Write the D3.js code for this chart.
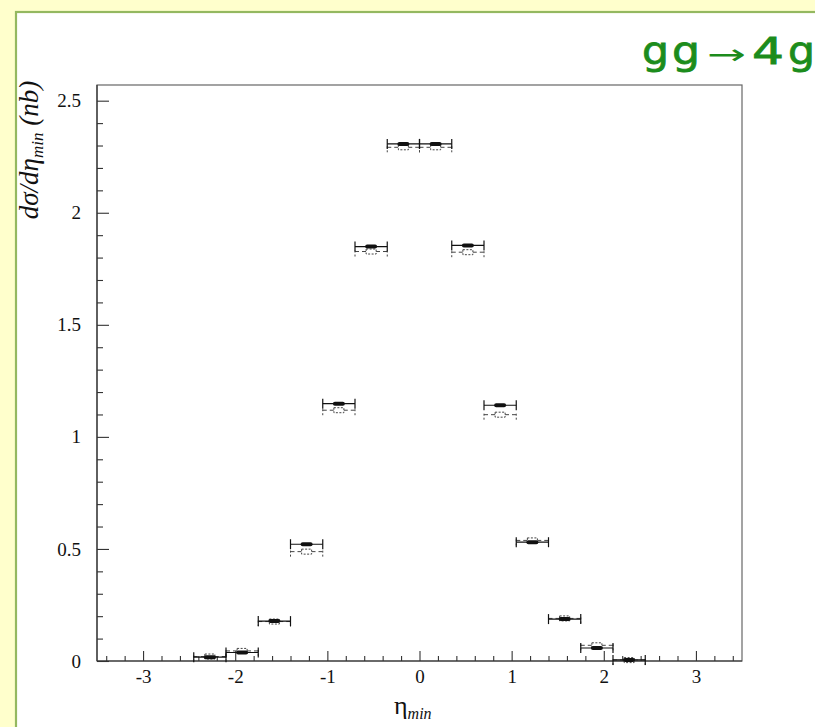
<!DOCTYPE html>
<html>
<head>
<meta charset="utf-8">
<script src="https://cdn.jsdelivr.net/npm/d3@7/dist/d3.min.js"></script>
<style>
  html, body { margin: 0; padding: 0; background: #ffffcc; }
  svg { display: block; }
</style>
</head>
<body>
<script>
// Bin edges in eta_min (each bin 0.35 wide)
const binLo = [-2.45, -2.10, -1.75, -1.40, -1.05, -0.70, -0.35, 0.00, 0.35, 0.70, 1.05, 1.40, 1.75, 2.10];
const binHi = [-2.10, -1.75, -1.40, -1.05, -0.70, -0.35, 0.00, 0.35, 0.70, 1.05, 1.40, 1.75, 2.10, 2.45];
// d sigma / d eta_min in nb: solid and dashed samples
const solidVals  = [0.017, 0.038, 0.178, 0.521, 1.148, 1.849, 2.307, 2.307, 1.854, 1.141, 0.530, 0.187, 0.058, 0.005];
const dashedVals = [0.020, 0.045, 0.176, 0.488, 1.119, 1.827, 2.292, 2.292, 1.824, 1.099, 0.538, 0.190, 0.070, 0.004];

const yMajor = [0, 0.5, 1, 1.5, 2, 2.5];
const yMajorLabels = ["0", "0.5", "1", "1.5", "2", "2.5"];
const yMinor = [0.1, 0.2, 0.3, 0.4, 0.6, 0.7, 0.8, 0.9, 1.1, 1.2, 1.3, 1.4, 1.6, 1.7, 1.8, 1.9, 2.1, 2.2, 2.3, 2.4];
const xMajor = [-3, -2, -1, 0, 1, 2, 3];
const xMajorLabels = ["-3", "-2", "-1", "0", "1", "2", "3"];
const xMinor = [-3.4, -3.2, -2.8, -2.6, -2.4, -2.2, -1.8, -1.6, -1.4, -1.2, -0.8, -0.6, -0.4, -0.2,
                0.2, 0.4, 0.6, 0.8, 1.2, 1.4, 1.6, 1.8, 2.2, 2.4, 2.6, 2.8, 3.2, 3.4];

const W = 815, H = 727;
const svg = d3.select("body").append("svg").attr("width", W).attr("height", H);

// page background and white panel
svg.append("rect").attr("width", W).attr("height", H).attr("fill", "#ffffcc");
svg.append("rect").attr("x", 16).attr("y", 12).attr("width", W).attr("height", H)
  .attr("fill", "#ffffff").attr("stroke", "#94b860").attr("stroke-width", 2.2);

const x = d3.scaleLinear().domain([-3.5, 3.5]).range([97, 742]);
const y = d3.scaleLinear().domain([0, 2.57]).range([661, 85]);

const serif = "'Liberation Serif', 'DejaVu Serif', serif";

// frame
svg.append("rect")
  .attr("x", x(-3.5)).attr("y", y(2.57))
  .attr("width", x(3.5) - x(-3.5)).attr("height", y(0) - y(2.57))
  .attr("fill", "none").attr("stroke", "#666").attr("stroke-width", 1.2);

// y axis: major ticks with labels, minor ticks, all pointing inward
const yAxisG = svg.append("g").attr("transform", `translate(${x(-3.5)},0)`);
yAxisG.call(d3.axisLeft(y).tickValues(yMajor).tickSize(-12).tickPadding(16)
  .tickFormat((d, i) => yMajorLabels[i]));
yAxisG.append("g").call(d3.axisLeft(y).tickValues(yMinor).tickSize(-6).tickFormat(""));
yAxisG.selectAll(".domain").remove();
yAxisG.selectAll("line").attr("stroke", "#333").attr("stroke-width", 1.1);
yAxisG.attr("font-family", serif).attr("font-size", 19);
yAxisG.selectAll("text").attr("font-family", serif).attr("font-size", 19).attr("fill", "#111");

// x axis
const xAxisG = svg.append("g").attr("transform", `translate(0,${y(0)})`);
xAxisG.call(d3.axisBottom(x).tickValues(xMajor).tickSize(-10).tickPadding(9)
  .tickFormat((d, i) => xMajorLabels[i]));
xAxisG.append("g").call(d3.axisBottom(x).tickValues(xMinor).tickSize(-5).tickFormat(""));
xAxisG.selectAll(".domain").remove();
xAxisG.selectAll("line").attr("stroke", "#333").attr("stroke-width", 1.1);
xAxisG.attr("font-family", serif).attr("font-size", 19);
xAxisG.selectAll("text").attr("font-family", serif).attr("font-size", 19).attr("fill", "#111");
xAxisG.selectAll("text").attr("dy", "0.71em");

// axis lines
svg.append("line").attr("x1", x(-3.5)).attr("x2", x(3.5)).attr("y1", y(0)).attr("y2", y(0))
  .attr("stroke", "#333").attr("stroke-width", 1.2);
svg.append("line").attr("x1", x(-3.5)).attr("x2", x(-3.5)).attr("y1", y(0)).attr("y2", y(2.57))
  .attr("stroke", "#333").attr("stroke-width", 1.2);

const bins = binLo.map((lo, i) => ({ lo, hi: binHi[i], s: solidVals[i], d: dashedVals[i] }));

// dashed series
const gd = svg.append("g").attr("stroke", "#444").attr("fill", "none").attr("stroke-width", 1);
bins.forEach(b => {
  const yy = y(b.d), xa = x(b.lo), xb = x(b.hi), xc = (xa + xb) / 2;
  gd.append("line").attr("x1", xa).attr("x2", xb).attr("y1", yy).attr("y2", yy)
    .attr("stroke-dasharray", "4,3");
  gd.append("line").attr("x1", xa).attr("x2", xa).attr("y1", yy - 1).attr("y2", yy + 5)
    .attr("stroke-dasharray", "2,2");
  gd.append("line").attr("x1", xb).attr("x2", xb).attr("y1", yy - 1).attr("y2", yy + 5)
    .attr("stroke-dasharray", "2,2");
  gd.append("rect").attr("x", xc - 5).attr("y", yy - 2.5).attr("width", 10).attr("height", 5)
    .attr("stroke-dasharray", "2,1.5").attr("fill", "#fff");
});

// solid series
const gs = svg.append("g").attr("stroke", "#111").attr("stroke-width", 1.2);
bins.forEach(b => {
  const yy = y(b.s), xa = x(b.lo), xb = x(b.hi), xc = (xa + xb) / 2;
  gs.append("line").attr("x1", xa).attr("x2", xb).attr("y1", yy).attr("y2", yy);
  gs.append("line").attr("x1", xa).attr("x2", xa).attr("y1", yy - 5).attr("y2", yy + 5);
  gs.append("line").attr("x1", xb).attr("x2", xb).attr("y1", yy - 5).attr("y2", yy + 5);
  gs.append("rect").attr("x", xc - 6).attr("y", yy - 2).attr("width", 12).attr("height", 4)
    .attr("rx", 2).attr("fill", "#111").attr("stroke", "none");
});

// y axis title
const yl = svg.append("text")
  .attr("transform", "translate(38,150) rotate(-90)")
  .attr("text-anchor", "middle")
  .attr("font-family", serif).attr("font-style", "italic").attr("font-size", 27).attr("fill", "#111");
yl.append("tspan").text("dσ/dη");
yl.append("tspan").attr("font-size", 17).attr("dy", 5).text("min");
yl.append("tspan").attr("dy", -5).text(" (nb)");

// x axis title
const xl = svg.append("text").attr("x", 394).attr("y", 714)
  .attr("font-family", serif).attr("font-size", 26).attr("fill", "#111");
xl.append("tspan").text("η");
xl.append("tspan").attr("font-size", 16).attr("font-style", "italic").attr("dy", 5).text("min");

// process label
const title = [
  { ch: "g", x: 642, w: 27 },
  { ch: "g", x: 672, w: 28 },
  { ch: "→", x: 707, w: 39 },
  { ch: "4", x: 752, w: 32 },
  { ch: "g", x: 788, w: 27 }
];
svg.append("g").selectAll("text").data(title).join("text")
  .attr("x", d => d.x).attr("y", 64)
  .attr("textLength", d => d.w).attr("lengthAdjust", "spacingAndGlyphs")
  .attr("font-family", "'DejaVu Sans', sans-serif")
  .attr("font-size", d => d.ch === "→" ? 28 : 38)
  .attr("stroke", "#1c8c1c").attr("stroke-width", d => d.ch === "→" ? 0 : 0.8)
  .attr("fill", "#1c8c1c")
  .text(d => d.ch);
</script>
</body>
</html>
